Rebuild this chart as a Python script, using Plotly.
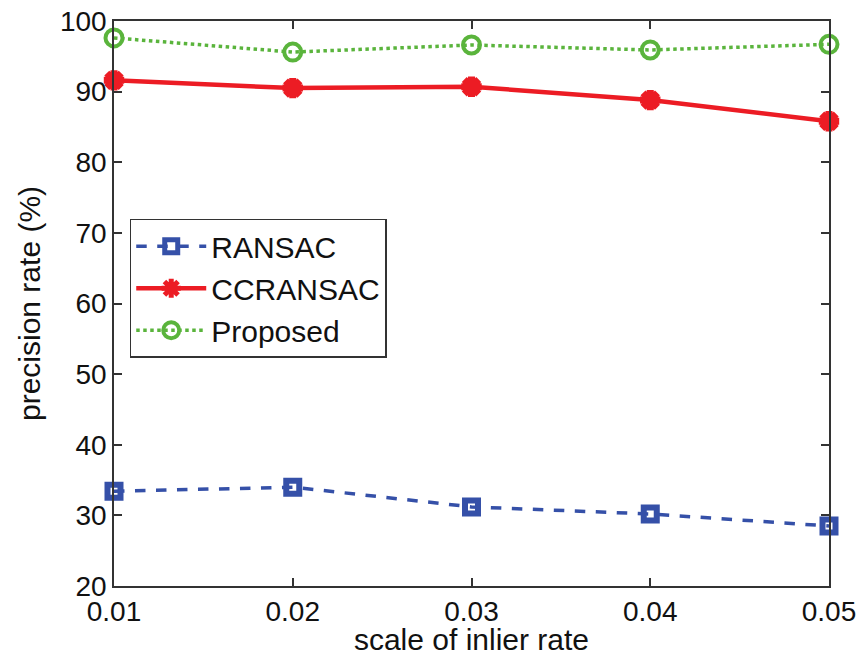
import plotly.graph_objects as go

scales = [0.01, 0.02, 0.03, 0.04, 0.05]
tick_labels = ["0.01", "0.02", "0.03", "0.04", "0.05"]
ransac = [33.4, 34.0, 31.2, 30.2, 28.5]
ccransac = [91.6, 90.5, 90.7, 88.8, 85.8]
proposed = [97.6, 95.6, 96.6, 95.9, 96.7]
y_ticks = [20, 30, 40, 50, 60, 70, 80, 90, 100]

FONT = "Liberation Sans, Arial, sans-serif"
FS_TICK = 28
FS = 30

fig = go.Figure()
fig.add_trace(go.Scatter(
    x=scales, y=ransac, name="RANSAC", mode="lines+markers",
    line=dict(color="#3550a8", width=3.5, dash="dash"),
    marker=dict(symbol="square-open", size=13, color="#3550a8",
                line=dict(color="#3550a8", width=6)),
    cliponaxis=False,
))
fig.add_trace(go.Scatter(
    x=scales, y=ccransac, name="CCRANSAC", mode="lines+markers",
    line=dict(color="#ec1c24", width=4.5),
    marker=dict(symbol="asterisk-open", size=17, color="#ec1c24",
                line=dict(color="#ec1c24", width=7)),
    cliponaxis=False,
))
fig.add_trace(go.Scatter(
    x=scales, y=proposed, name="Proposed", mode="lines+markers",
    line=dict(color="#5ab43c", width=3.5, dash="dot"),
    marker=dict(symbol="circle-open", size=17, color="#5ab43c",
                line=dict(color="#5ab43c", width=4)),
    cliponaxis=False,
))

axis_common = dict(
    showline=True, linecolor="#333333", linewidth=1.5, mirror="ticks",
    ticks="inside", ticklen=8, tickwidth=1.5, tickcolor="#333333",
    showgrid=False, zeroline=False,
    tickfont=dict(family=FONT, size=FS_TICK, color="#111111"),
)

fig.update_layout(
    width=861, height=656,
    margin=dict(l=114, r=32, t=21, b=70),
    paper_bgcolor="white", plot_bgcolor="white",
    font=dict(family=FONT, size=FS, color="#111111"),
    showlegend=True,
    legend=dict(
        x=0.022, y=0.65, xanchor="left", yanchor="top",
        bgcolor="white", bordercolor="#333333", borderwidth=1.5,
        font=dict(family=FONT, size=FS, color="#111111"),
        itemwidth=70, tracegroupgap=0,
    ),
    xaxis=dict(
        range=[0.01, 0.05], tickvals=scales, ticktext=tick_labels,
        title=dict(text="scale of inlier rate", standoff=11,
                   font=dict(family=FONT, size=FS, color="#111111")),
        automargin=False,
        **axis_common,
    ),
    yaxis=dict(
        range=[20, 100], tickvals=y_ticks,
        title=dict(text="precision rate (%)", standoff=10,
                   font=dict(family=FONT, size=FS, color="#111111")),
        automargin=False,
        **axis_common,
    ),
)

fig.write_html(
    "out.html",
    config={"displayModeBar": False},
    post_script="document.body.style.margin='0';document.body.style.overflow='hidden';",
)
